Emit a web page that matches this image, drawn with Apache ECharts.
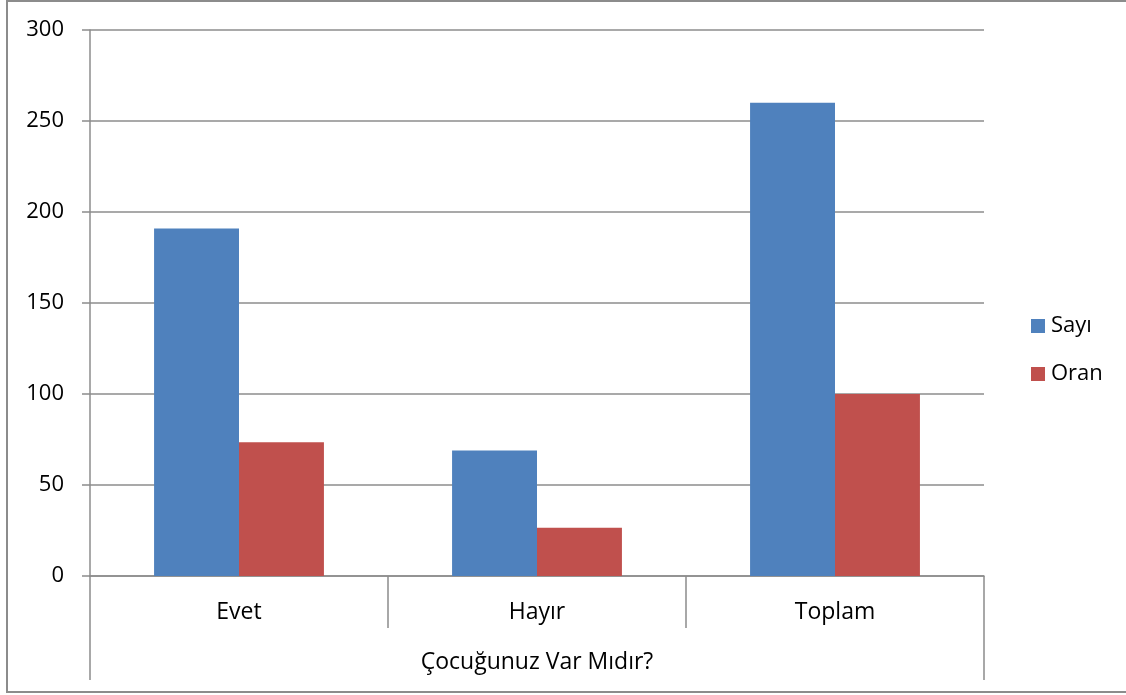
<!DOCTYPE html>
<html>
<head>
<meta charset="utf-8">
<script src="https://cdn.jsdelivr.net/npm/echarts@6/dist/echarts.min.js"></script>
<style>
  html, body { margin: 0; padding: 0; background: #fff; }
  #chart { width: 1126px; height: 695px; }
</style>
</head>
<body>
<div id="chart"></div>
<script>
const categories = ['Evet', 'Hayır', 'Toplam']
const groupLabel = ['Çocuğunuz Var Mıdır?']
const sayi = [191, 69, 260]
const oran = [73.46, 26.54, 100]

const font = '"Open Sans", "Noto Sans", sans-serif'
const gray = '#8c8c8c'

const myChart = echarts.init(document.getElementById('chart'))

const option = {
  animation: false,
  textStyle: { fontFamily: font },
  graphic: [{
    type: 'rect',
    shape: { x: 7, y: 1, width: 1130, height: 691 },
    style: { fill: 'none', stroke: gray, lineWidth: 2 }
  }],
  legend: {
    orient: 'vertical',
    left: 1026,
    top: 310,
    itemWidth: 14,
    itemHeight: 14,
    itemGap: 26,
    icon: 'rect',
    textStyle: { fontSize: 22, color: '#000', fontFamily: font, padding: [0, 0, 0, 1] },
    data: ['Sayı', 'Oran']
  },
  grid: { left: 90, right: 142, top: 30, bottom: 119 },
  xAxis: [
    {
      type: 'category',
      data: categories,
      axisLine: { lineStyle: { color: gray, width: 1.5 } },
      axisTick: { show: true, length: 52, interval: 0, lineStyle: { color: gray, width: 1.5 } },
      axisLabel: { margin: 25, fontSize: 23, color: '#000', fontFamily: font }
    },
    {
      type: 'category',
      position: 'bottom',
      offset: 52,
      data: groupLabel,
      axisLine: { show: false },
      axisTick: { show: true, length: 52, interval: 0, lineStyle: { color: gray, width: 1.5 } },
      axisLabel: { margin: 23, fontSize: 23, color: '#000', fontFamily: font }
    }
  ],
  yAxis: {
    type: 'value',
    min: 0,
    max: 300,
    interval: 50,
    axisLine: { show: true, lineStyle: { color: gray, width: 1.5 } },
    axisTick: { show: true, length: 8, lineStyle: { color: gray, width: 1.5 } },
    axisLabel: { margin: 26, fontSize: 22, color: '#000', fontFamily: font },
    splitLine: { lineStyle: { color: gray, width: 1.5 } }
  },
  series: [
    {
      name: 'Sayı',
      type: 'bar',
      xAxisIndex: 0,
      data: sayi,
      barGap: '0%',
      barCategoryGap: '43%',
      itemStyle: { color: '#4f81bd' }
    },
    {
      name: 'Oran',
      type: 'bar',
      xAxisIndex: 0,
      data: oran,
      itemStyle: { color: '#c0504d' }
    }
  ]
}

myChart.setOption(option)
</script>
</body>
</html>
